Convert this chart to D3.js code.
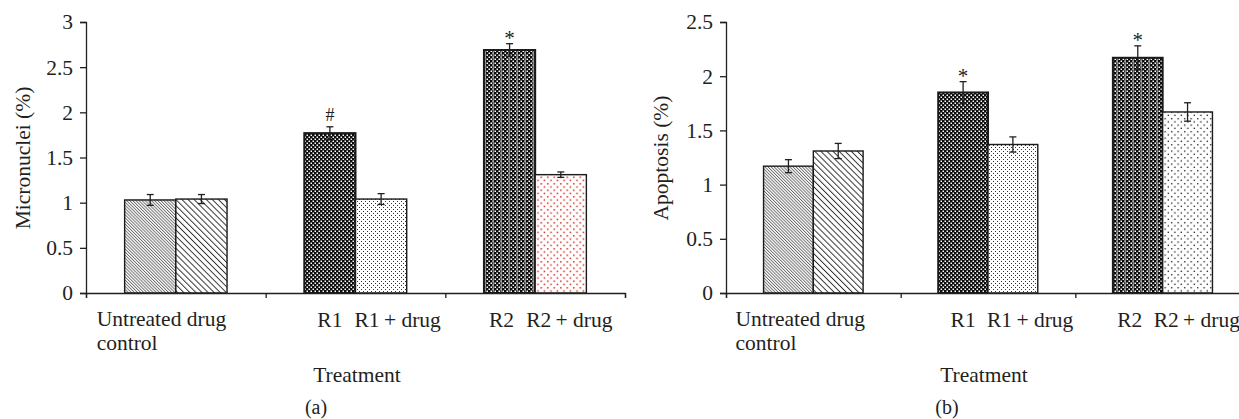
<!DOCTYPE html>
<html>
<head>
<meta charset="utf-8">
<script src="https://cdn.jsdelivr.net/npm/d3@7"></script>
<style>
  body { margin: 0; background: #fff; }
  text { font-family: "Liberation Serif", "Times New Roman", serif; fill: #231f20; }
</style>
</head>
<body>
<svg id="chart" width="1239" height="419"></svg>
<script>
// bar order inside each chart: untreated, drug control, R1, R1 + drug, R2, R2 + drug
const groups = ["control", "R1", "R2"];
const barNames = ["Untreated", "Drug control", "R1", "R1 + drug", "R2", "R2 + drug"];

const micronuclei = [1.03, 1.04, 1.77, 1.04, 2.69, 1.31];
const micronucleiErr = [0.06, 0.05, 0.07, 0.06, 0.07, 0.03];
const micronucleiMarks = ["", "", "#", "", "*", ""];

const apoptosis = [1.17, 1.31, 1.85, 1.37, 2.17, 1.67];
const apoptosisErr = [0.06, 0.07, 0.10, 0.07, 0.11, 0.085];
const apoptosisMarks = ["", "", "*", "", "*", ""];

const yTicksA = [0, 0.5, 1, 1.5, 2, 2.5, 3];
const yTicksB = [0, 0.5, 1, 1.5, 2, 2.5];

const FS = 21.5;

const svg = d3.select("#chart");
svg.append("rect").attr("width", 1239).attr("height", 419).attr("fill", "#fff");

const defs = svg.append("defs");

// diagonal hatching, lines running top-left to bottom-right
function hatch(id, gap, color, w) {
  const p = defs.append("pattern")
    .attr("id", id)
    .attr("patternUnits", "userSpaceOnUse")
    .attr("width", gap).attr("height", gap)
    .attr("patternTransform", "rotate(-45)");
  p.append("rect").attr("width", gap).attr("height", gap).attr("fill", "#fff");
  p.append("line")
    .attr("x1", 0.5).attr("y1", -1).attr("x2", 0.5).attr("y2", gap + 1)
    .attr("stroke", color).attr("stroke-width", w);
}
hatch("hatchFine", 2.2, "#555", 0.8);
hatch("hatchWide", 4.3, "#222", 0.9);

// dark checker
const chk = defs.append("pattern")
  .attr("id", "checker")
  .attr("patternUnits", "userSpaceOnUse")
  .attr("width", 4).attr("height", 4);
chk.append("rect").attr("width", 4).attr("height", 4).attr("fill", "#0d0d0d");
chk.append("rect").attr("x", 0.5).attr("y", 0.5).attr("width", 1.5).attr("height", 1.5).attr("fill", "#fff");
chk.append("rect").attr("x", 2.5).attr("y", 2.5).attr("width", 1.5).attr("height", 1.5).attr("fill", "#fff");

// checker with grey vertical stripes
const chs = defs.append("pattern")
  .attr("id", "checkerStripe")
  .attr("patternUnits", "userSpaceOnUse")
  .attr("width", 8).attr("height", 4);
chs.append("rect").attr("width", 8).attr("height", 4).attr("fill", "#0d0d0d");
[[0.5, 0.5], [2.5, 2.5], [4.5, 0.5], [6.5, 2.5]].forEach(([x, y]) => {
  chs.append("rect").attr("x", x).attr("y", y).attr("width", 1.5).attr("height", 1.5).attr("fill", "#fff");
});
chs.append("rect").attr("x", 4.6).attr("width", 1.2).attr("height", 4).attr("fill", "#999");

// dot fills
function dots(id, size, color, r) {
  const p = defs.append("pattern")
    .attr("id", id)
    .attr("patternUnits", "userSpaceOnUse")
    .attr("width", size).attr("height", size);
  p.append("rect").attr("width", size).attr("height", size).attr("fill", "#fff");
  p.append("rect").attr("x", 1).attr("y", 1).attr("width", r).attr("height", r).attr("fill", color);
  p.append("rect").attr("x", 1 + size / 2).attr("y", 1 + size / 2).attr("width", r).attr("height", r).attr("fill", color);
}
dots("dotsFine", 4, "#333", 1);
dots("dotsRed", 6.5, "#d42a22", 1.5);
dots("dotsBlack", 6.5, "#111", 1.3);

function drawPanel(cfg) {
  const y = d3.scaleLinear().domain([0, cfg.yMax]).range([293, 22]);
  const xPos = d3.scaleLinear().domain([0, groups.length]).range(cfg.xRange);
  const x0 = d3.scaleBand().domain(groups).range(cfg.xRange);
  const bw = x0.bandwidth();
  const x1 = d3.scaleBand().domain([0, 1]).range([bw * 0.215, bw * 0.785]);

  const g = svg.append("g");

  const bars = cfg.values.map((v, i) => ({
    name: barNames[i],
    group: groups[Math.floor(i / 2)],
    sub: i % 2,
    value: v,
    err: cfg.errors[i],
    mark: cfg.marks[i],
    fill: cfg.fills[i]
  }));

  g.selectAll(".bar")
    .data(bars)
    .join("rect")
      .classed("bar", true)
      .attr("x", d => x0(d.group) + x1(d.sub))
      .attr("y", d => y(d.value))
      .attr("width", x1.bandwidth())
      .attr("height", d => y(0) - y(d.value))
      .attr("fill", d => `url(#${d.fill})`)
      .attr("stroke", "#1a1a1a")
      .attr("stroke-width", d => d.sub === 0 && d.group !== "control" ? 2 : 1.4);

  // error bars
  const cx = d => x0(d.group) + x1(d.sub) + x1.bandwidth() / 2;
  const eb = g.selectAll(".err").data(bars).join("g").classed("err", true)
    .attr("stroke", "#231f20").attr("stroke-width", 1.3);
  eb.append("line")
    .attr("x1", cx).attr("x2", cx)
    .attr("y1", d => y(d.value + d.err)).attr("y2", d => y(d.value - d.err));
  eb.append("line")
    .attr("x1", d => cx(d) - 3.5).attr("x2", d => cx(d) + 3.5)
    .attr("y1", d => y(d.value + d.err)).attr("y2", d => y(d.value + d.err));
  eb.append("line")
    .attr("x1", d => cx(d) - 3.5).attr("x2", d => cx(d) + 3.5)
    .attr("y1", d => y(d.value - d.err)).attr("y2", d => y(d.value - d.err));

  // significance marks
  g.selectAll(".mark")
    .data(bars.filter(d => d.mark))
    .join("text")
      .classed("mark", true)
      .attr("x", cx)
      .attr("y", d => y(d.value + d.err) + (d.mark === "*" ? 1 : -6))
      .attr("text-anchor", "middle")
      .attr("font-size", d => d.mark === "*" ? 21 : 18)
      .text(d => d.mark);

  // axes
  const yAxis = g.append("g")
    .attr("transform", `translate(${cfg.xRange[0]},0)`)
    .call(d3.axisLeft(y).tickValues(cfg.yTicks).tickFormat(d => d).tickSize(6).tickPadding(7));
  yAxis.selectAll("text").attr("font-size", FS).attr("font-family", "Liberation Serif").attr("fill", "#231f20");

  g.append("g")
    .attr("transform", "translate(0,293)")
    .call(d3.axisBottom(xPos).tickValues(d3.range(groups.length + 1)).tickFormat("").tickSize(5));

  g.selectAll(".domain, .tick line").attr("stroke", "#231f20").attr("stroke-width", 1.3);

  // category labels
  const lab = g.append("g").attr("font-size", FS);
  const left = (gi, s) => x0(groups[gi]) + x1(s);
  lab.append("text").attr("x", left(0, 0) - 28).attr("y", 326).text("Untreated drug");
  lab.append("text").attr("x", left(0, 0) - 28).attr("y", 350).text("control");
  [1, 2].forEach((gi, k) => {
    const shift = k === 0 ? 0 : -8;
    lab.append("text")
      .attr("x", left(gi, 0) + x1.bandwidth() / 2 + shift)
      .attr("y", 327)
      .attr("text-anchor", "middle")
      .text(barNames[gi * 2]);
    lab.append("text")
      .attr("x", left(gi, 1) - 1 + shift)
      .attr("y", 327)
      .text(barNames[gi * 2 + 1].replace(" + ", "\u2009+ "));
  });

  // axis titles
  g.append("text")
    .attr("x", cfg.titleX).attr("y", 382)
    .attr("text-anchor", "middle")
    .attr("font-size", FS)
    .text("Treatment");

  g.append("text")
    .attr("transform", `translate(${cfg.yLabelX},158) rotate(-90)`)
    .attr("text-anchor", "middle")
    .attr("font-size", FS)
    .text(cfg.yLabel);

  g.append("text")
    .attr("x", cfg.panelX).attr("y", 414)
    .attr("text-anchor", "middle")
    .attr("font-size", 20)
    .text(cfg.panel);
}

drawPanel({
  xRange: [86, 625],
  yMax: 3,
  yTicks: yTicksA,
  values: micronuclei,
  errors: micronucleiErr,
  marks: micronucleiMarks,
  fills: ["hatchFine", "hatchWide", "checker", "dotsFine", "checkerStripe", "dotsRed"],
  yLabel: "Micronuclei (%)",
  yLabelX: 30,
  titleX: 357,
  panel: "(a)",
  panelX: 316
});

drawPanel({
  xRange: [726, 1250],
  yMax: 2.5,
  yTicks: yTicksB,
  values: apoptosis,
  errors: apoptosisErr,
  marks: apoptosisMarks,
  fills: ["hatchFine", "hatchWide", "checker", "dotsFine", "checkerStripe", "dotsBlack"],
  yLabel: "Apoptosis (%)",
  yLabelX: 668,
  titleX: 984,
  panel: "(b)",
  panelX: 947
});
</script>
</body>
</html>
